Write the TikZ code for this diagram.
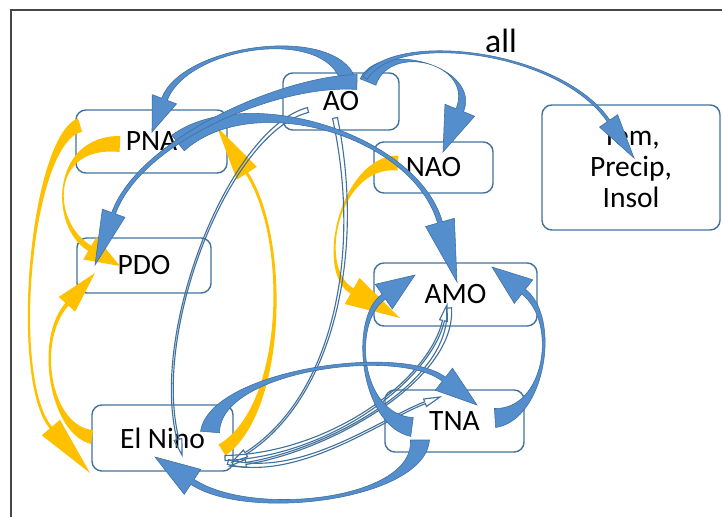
\documentclass[tikz,border=0pt]{standalone}
\usepackage{fontspec}
\setmainfont{Carlito}
\usetikzlibrary{calc}
\definecolor{boxline}{RGB}{65,113,156}
\definecolor{bandblue}{RGB}{84,142,204}
\definecolor{bandedge}{RGB}{62,110,160}
\definecolor{gold}{RGB}{255,192,0}
\definecolor{frameline}{RGB}{70,70,70}

\newcommand\ribbon[9][]{%
  \pgfmathsetmacro\rmid{(#6+2*#7)*0.0042}%
  \path #2 coordinate (rS) #3 coordinate (rP) #4 coordinate (rQ) #5 coordinate (rT);
  \path ($(rT)!#9*0.025cm!(rQ)$) coordinate (rE);
  \path ($(rS)!#6*0.0125cm!90:(rP)$) coordinate (rA)
        ($(rS)!#6*0.0125cm!-90:(rP)$) coordinate (rB)
        ($(rS)!\rmid cm!90:(rP)$) coordinate (mA)
        ($(rS)!\rmid cm!-90:(rP)$) coordinate (mB)
        ($(rE)!#7*0.0125cm!-90:(rQ)$) coordinate (rC)
        ($(rE)!#7*0.0125cm!90:(rQ)$) coordinate (rD)
        ($(rE)!#8*0.0125cm!-90:(rQ)$) coordinate (hC)
        ($(rE)!#8*0.0125cm!90:(rQ)$) coordinate (hD);
  \path[#1] (rA) .. controls ($(rP)+(mA)-(rS)$) and ($(rQ)+(rC)-(rE)$) .. (rC)
    -- (hC) -- (rT) -- (hD) -- (rD)
    .. controls ($(rQ)+(rD)-(rE)$) and ($(rP)+(mB)-(rS)$) .. (rB) -- cycle;
}

\begin{document}
\begin{tikzpicture}[
  x=0.025cm, y=-0.025cm,
  box/.style    = {rectangle, draw=boxline, line width=1pt, rounded corners=7pt,
                   inner sep=0pt, align=center, font=\fontsize{21}{22}\selectfont},
  blueband/.style = {fill=bandblue, draw=bandedge, line width=0.4pt},
  goldband/.style = {fill=gold},
  thinband/.style = {draw=boxline, line width=0.8pt}
]
\useasboundingbox (0,0) rectangle (722,517);
\draw[frameline, line width=1.1pt] (11,517) |- (722,10);

\node[box, minimum width=3.775cm, minimum height=1.575cm] (pna)    at (151.5,141.5) {PNA};
\node[box, minimum width=2.9cm,   minimum height=1.425cm] (ao)     at (341,101.5)   {AO};
\node[box, minimum width=2.975cm, minimum height=1.275cm] (nao)    at (433.5,167.5) {NAO};
\node[box, minimum width=4.45cm,  minimum height=3.125cm] (tem)    at (631,167.5)   {Tem,\\Precip,\\Insol};
\node[box, minimum width=3.35cm,  minimum height=1.375cm] (pdo)    at (144,265.5)   {PDO};
\node[box, minimum width=4.075cm, minimum height=1.575cm] (amo)    at (455.5,294.5) {AMO};
\node[box, minimum width=3.525cm, minimum height=1.65cm]  (elnino) at (162.5,438)   {El Nino};
\node[box, minimum width=3.475cm, minimum height=1.55cm]  (tna)    at (454.5,421)   {TNA};
\node[font=\fontsize{24}{26}\selectfont] (all) at (501,41) {all};

\ribbon[goldband]{($(pna)+(-71.5,-16.5)$)}{(30,140)}{(10,380)}{($(elnino)+(-72.5,35)$)}{14}{3}{24}{60}
\ribbon[goldband]{($(pna)+(-31.5,2.5)$)}{(50,140)}{(50,225)}{($(pdo)+(-24,0.5)$)}{16}{6}{26}{35}
\ribbon[goldband]{($(elnino)+(-70.5,-1)$)}{(50,430)}{(35,340)}{($(pdo)+(-49,7.5)$)}{14}{4}{22}{42}
\ribbon[goldband]{($(elnino)+(59.5,12)$)}{(285,410)}{(290,240)}{($(pna)+(65.5,-14.5)$)}{13}{3}{24}{55}
\ribbon[goldband]{($(nao)+(-35.5,-4.5)$)}{(340,160)}{(315,270)}{($(amo)+(-55.5,23.5)$)}{15}{6}{30}{55}

\ribbon[thinband]{($(ao)+(-33,8.5)$)}{(230,130)}{(150,330)}{($(elnino)+(19.5,17)$)}{5}{2}{8}{16}
\ribbon[thinband]{($(ao)+(-6,16.5)$)}{(365,260)}{(330,400)}{($(elnino)+(69.5,24)$)}{5}{2}{8}{16}
\ribbon[thinband]{($(elnino)+(62.5,20)$)}{(330,455)}{(430,380)}{($(amo)+(-8.5,10.5)$)}{5}{2}{8}{16}
\ribbon[thinband]{($(amo)+(-6.5,13.5)$)}{(455,380)}{(330,450)}{($(elnino)+(67.5,28)$)}{5}{2}{8}{16}
\ribbon[thinband]{($(elnino)+(65.5,24)$)}{(300,480)}{(380,420)}{($(tna)+(-14.5,-24)$)}{5}{2}{8}{16}

\ribbon[blueband]{($(ao)+(7,-21.5)$)}{(330,25)}{(185,45)}{($(pna)+(0.5,-9.5)$)}{15}{6}{26}{35}
\ribbon[blueband]{($(ao)+(27,-19.5)$)}{(385,40)}{(478,65)}{($(nao)+(9.5,-15.5)$)}{17}{8}{32}{45}
\ribbon[blueband]{($(ao)+(24,-23.5)$)}{(395,30)}{(560,50)}{($(tem)+(3,-9.5)$)}{5}{3}{22}{45}
\ribbon[blueband]{($(pna)+(26.5,1.5)$)}{(250,85)}{(415,135)}{($(amo)+(1.5,-12.5)$)}{20}{5}{30}{62}
\ribbon[blueband]{($(ao)+(16,-19.5)$)}{(280,80)}{(140,140)}{($(pdo)+(-49,-0.5)$)}{15}{4}{24}{55}
\ribbon[blueband]{($(tna)+(-42.5,6)$)}{(360,420)}{(350,320)}{($(amo)+(-40.5,-19.5)$)}{19}{6}{30}{38}
\ribbon[blueband]{($(tna)+(40.5,-3)$)}{(545,415)}{(560,320)}{($(amo)+(36.5,-27.5)$)}{19}{6}{30}{40}
\ribbon[blueband]{($(tna)+(-34.5,19)$)}{(420,500)}{(250,520)}{($(elnino)+(-7.5,19)$)}{19}{6}{30}{45}
\ribbon[blueband]{($(elnino)+(47.5,-6)$)}{(215,370)}{(400,345)}{($(tna)+(22.5,-16)$)}{19}{5}{28}{42}
\end{tikzpicture}
\end{document}
